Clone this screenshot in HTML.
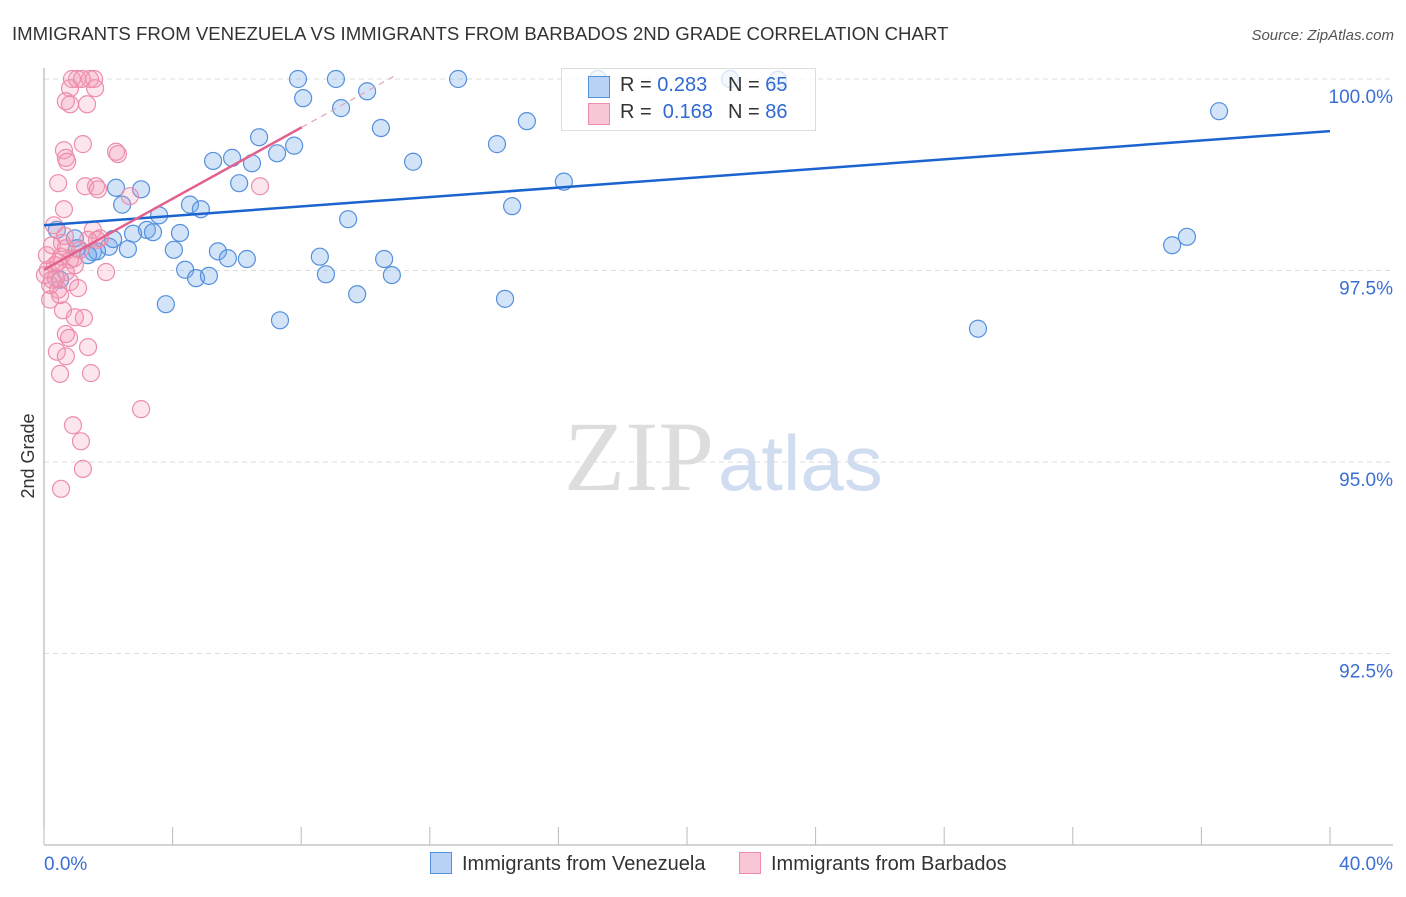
<!DOCTYPE html>
<html><head><meta charset="utf-8"><style>
body{margin:0;background:#fff;font-family:"Liberation Sans",sans-serif}
</style></head><body>
<svg id="c" width="1406" height="892" style="font-family:'Liberation Sans',sans-serif">
<text x="12" y="40" font-size="18.6" fill="#333">IMMIGRANTS FROM VENEZUELA VS IMMIGRANTS FROM BARBADOS 2ND GRADE CORRELATION CHART</text>
<text x="1394" y="40" font-size="15" fill="#555" font-style="italic" text-anchor="end">Source: ZipAtlas.com</text>
<text x="714" y="490" font-size="100" fill="#ddd" style="font-family:'Liberation Serif',serif" text-anchor="end">ZIP</text>
<text x="718" y="490" font-size="78" fill="#d0dcef">atlas</text>
<text x="34" y="456" font-size="18" fill="#333" text-anchor="middle" transform="rotate(-90 34 456)">2nd Grade</text>
<g id="grid"></g><g id="marks"></g>
</svg>
<script>
const xTickVals=[0,4,8,12,16,20,24,28,32,36,40];
const yTickVals=[92.5,95,97.5,100];
const yTickLabels=["92.5%","95.0%","97.5%","100.0%"];
const blueX=[7.90,9.08,12.88,17.23,21.34,22.83,8.06,10.05,9.24,10.48,11.48,14.09,15.02,36.55,16.17,14.56,9.46,7.78,7.25,6.69,6.47,5.85,5.26,6.07,3.02,2.24,2.43,3.58,4.54,4.88,3.20,3.39,4.23,2.77,2.02,2.61,0.40,0.96,1.52,1.65,1.37,4.04,5.41,5.72,6.31,4.39,4.73,5.13,8.58,8.77,10.58,10.82,9.74,3.79,7.34,14.34,35.09,35.55,29.05,2.15,0.50,1.03];
const blueY=[100,100,100,100,100,99.99,99.75,99.84,99.62,99.36,98.92,99.15,99.45,99.58,98.66,98.34,98.17,99.13,99.03,99.24,98.90,98.97,98.93,98.64,98.56,98.58,98.36,98.22,98.36,98.30,98.03,98.00,97.99,97.98,97.81,97.78,98.03,97.92,97.74,97.75,97.70,97.77,97.75,97.66,97.65,97.51,97.40,97.43,97.68,97.45,97.65,97.44,97.19,97.06,96.85,97.13,97.83,97.94,96.74,97.91,97.38,97.79];
const pinkX=[0.87,1.03,1.43,1.56,1.18,0.81,1.59,0.68,0.81,1.34,1.21,0.62,0.68,0.72,0.44,1.28,1.62,1.68,2.24,2.30,6.72,0.62,0.65,1.93,0.59,1.24,0.96,0.68,0.78,1.37,0.40,0.68,0.50,1.46,3.02,0.90,1.15,1.21,0.53,0.44,0.19,2.67,1.52,1.74,0.53,0.34,0.12,0.25,0.81,0.96,0.19,0.50,1.12,0.56,0.31,1.37,0.68,0.03,0.81,1.06,0.37,1.65,0.09,0.44,0.93,0.25,0.68];
const pinkY=[100,100,100,100,100,99.88,99.88,99.71,99.67,99.67,99.15,99.07,98.97,98.92,98.64,98.60,98.60,98.56,99.05,99.02,98.60,98.30,97.95,97.48,96.98,96.88,96.89,96.67,96.62,96.50,96.44,96.38,96.15,96.16,95.69,95.48,95.27,94.91,94.65,97.25,97.12,98.47,98.03,97.92,97.68,97.57,97.51,97.83,97.64,97.57,97.31,97.18,97.77,97.86,98.09,97.90,97.48,97.44,97.35,97.27,97.40,97.90,97.70,97.61,97.66,97.38,97.79];
const blueTrend=[[0,98.09],[40,99.32]];
const pinkTrend=[[0,97.51],[8.02,99.37]];
const pinkDash=[[8.02,99.37],[10.9,100.04]];
const NS="http://www.w3.org/2000/svg";
const X=v=>44+v/40*1286, Y=v=>845-(v-90)*76.6;
const grid=document.getElementById('grid'), marks=document.getElementById('marks');
function mk(p,tag,a){const e=document.createElementNS(NS,tag);for(const k in a)e.setAttribute(k,a[k]);p.appendChild(e);return e;}
yTickVals.forEach((v,i)=>{
 const l=mk(grid,'line',{x1:44,x2:1393,y1:Y(v),y2:Y(v),stroke:'#ddd','stroke-dasharray':'5,4'});
 
 
 const t=mk(grid,'text',{x:1393,y:Y(v)+24,'font-size':19,fill:'#3b6fd4','text-anchor':'end'});t.textContent=yTickLabels[i];
 
 
});
const ax=mk(grid,'line',{x1:44,x2:44,y1:68,y2:845,stroke:'#aaa'});


const bx=mk(grid,'line',{x1:44,x2:1393,y1:845,y2:845,stroke:'#aaa'});


xTickVals.forEach(v=>{const t=mk(grid,'line',{x1:X(v),x2:X(v),y1:827,y2:845,stroke:'#bbb'});
 
 });
[[0,"0.0%","start",44],[40,"40.0%","end",1393]].forEach(d=>{const t=mk(grid,'text',{x:d[3],y:870,'font-size':19,fill:'#3b6fd4','text-anchor':d[2]});t.textContent=d[1];
 
 });
blueX.forEach((v,i)=>{const c=mk(marks,'circle',{cx:X(v),cy:Y(blueY[i]),r:8.5,fill:'rgba(110,165,235,0.3)',stroke:'#5590dc','stroke-width':1.2});
 
 });
pinkX.forEach((v,i)=>{const c=mk(marks,'circle',{cx:X(v),cy:Y(pinkY[i]),r:8.5,fill:'rgba(245,150,180,0.25)',stroke:'#ec8eab','stroke-width':1.2});
 
 });
const bl=mk(marks,'line',{x1:X(blueTrend[0][0]),y1:Y(blueTrend[0][1]),x2:X(blueTrend[1][0]),y2:Y(blueTrend[1][1]),stroke:'#1b64d0','stroke-width':2.5});


const pl=mk(marks,'line',{x1:X(pinkTrend[0][0]),y1:Y(pinkTrend[0][1]),x2:X(pinkTrend[1][0]),y2:Y(pinkTrend[1][1]),stroke:'#e4608c','stroke-width':2.5});


const pd=mk(marks,'line',{x1:X(pinkDash[0][0]),y1:Y(pinkDash[0][1]),x2:X(pinkDash[1][0]),y2:Y(pinkDash[1][1]),stroke:'#e8a0b8','stroke-width':1.2,'stroke-dasharray':'6,5'});


</script>
<div style="position:absolute;left:561px;top:68px;width:253px;height:61px;border:1px solid #ddd;background:rgba(255,255,255,0.75);font-size:20px;color:#333">
 <div style="position:absolute;left:26px;top:7px;width:20px;height:20px;background:#b9d3f7;border:1px solid #5590dc"></div>
 <div style="position:absolute;left:58px;top:5px">R = <span style="color:#2f6ad0">0.283</span></div>
 <div style="position:absolute;left:166px;top:5px">N = <span style="color:#2f6ad0">65</span></div>
 <div style="position:absolute;left:26px;top:34px;width:20px;height:20px;background:#f9c6d5;border:1px solid #ec8eab"></div>
 <div style="position:absolute;left:58px;top:32px">R = &nbsp;<span style="color:#2f6ad0">0.168</span></div>
 <div style="position:absolute;left:166px;top:32px">N = <span style="color:#2f6ad0">86</span></div>
</div>
<div style="position:absolute;left:430px;top:852px;font-size:20px;color:#333">
 <span style="position:absolute;left:0;top:0;white-space:nowrap"><span style="display:inline-block;width:20px;height:20px;background:#b9d3f7;border:1px solid #5590dc;vertical-align:-4px;margin-right:10px"></span>Immigrants from Venezuela</span>
 <span style="position:absolute;left:309px;top:0;white-space:nowrap"><span style="display:inline-block;width:20px;height:20px;background:#f9c6d5;border:1px solid #ec8eab;vertical-align:-4px;margin-right:10px"></span>Immigrants from Barbados</span>
</div>
</body></html>
